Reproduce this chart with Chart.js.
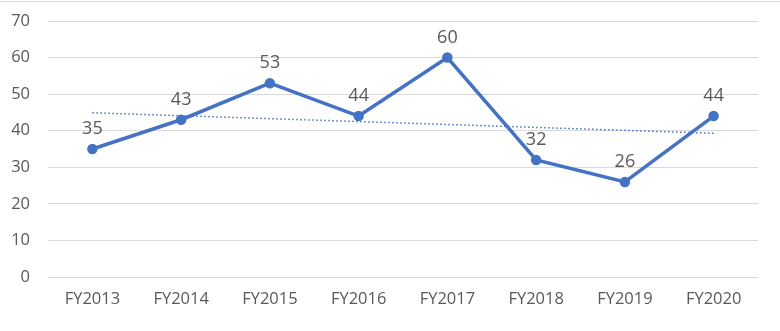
<!DOCTYPE html>
<html>
<head>
<meta charset="utf-8">
<script src="https://cdn.jsdelivr.net/npm/chart.js@4/dist/chart.umd.min.js"></script>
<style>
  html, body { margin: 0; padding: 0; background: #fff; }
  #wrap { position: relative; width: 780px; height: 331px; box-sizing: border-box; border-top: 1px solid #d9d9d9; margin-top: 1px; }
</style>
</head>
<body>
<div id="wrap"><canvas id="chart"></canvas></div>
<script>
const years = ['FY2013', 'FY2014', 'FY2015', 'FY2016', 'FY2017', 'FY2018', 'FY2019', 'FY2020'];
const counts = [35, 43, 53, 44, 60, 32, 26, 44];
// linear trend, only the two ends are drawn and joined
const trendValues = [44.9, null, null, null, null, null, null, 39.3];
const yTicks = [0, 10, 20, 30, 40, 50, 60, 70];

const textColor = '#595959';
const lineColor = '#4472c4';
const fontFamily = "'Open Sans', 'Noto Sans', sans-serif";

const valueLabels = {
  id: 'valueLabels',
  afterDatasetsDraw(chart) {
    const { ctx } = chart;
    const meta = chart.getDatasetMeta(0);
    ctx.save();
    ctx.font = `18px ${fontFamily}`;
    ctx.fillStyle = textColor;
    ctx.textAlign = 'center';
    ctx.textBaseline = 'bottom';
    meta.data.forEach((pt, i) => {
      ctx.fillText(String(counts[i]), pt.x, pt.y - 11);
    });
    ctx.restore();
  }
};

new Chart(document.getElementById('chart'), {
  type: 'line',
  data: {
    labels: years,
    datasets: [
      {
        data: counts,
        borderColor: lineColor,
        backgroundColor: lineColor,
        borderWidth: 3.5,
        pointRadius: 3.5,
        pointHoverRadius: 3.5,
        tension: 0
      },
      {
        data: trendValues,
        borderColor: lineColor,
        borderWidth: 1.5,
        borderDash: [1.5, 2.5],
        pointRadius: 0,
        spanGaps: true,
        tension: 0
      }
    ]
  },
  options: {
    responsive: true,
    maintainAspectRatio: false,
    animation: false,
    layout: { padding: { top: 19, right: 22, bottom: 0, left: 0 } },
    plugins: { legend: { display: false }, tooltip: { enabled: false } },
    scales: {
      x: {
        offset: true,
        grid: { display: false, drawTicks: false },
        border: { display: false },
        ticks: { color: textColor, font: { family: fontFamily, size: 16.5 }, padding: 12, maxRotation: 0 },
        afterFit: (axis) => { axis.height = 55; }
      },
      y: {
        min: 0,
        max: 70,
        afterBuildTicks: (axis) => { axis.ticks = yTicks.map((v) => ({ value: v })); },
        grid: { color: '#d9d9d9', lineWidth: 1, drawTicks: false },
        border: { display: false },
        ticks: { color: textColor, font: { family: fontFamily, size: 16.5 }, padding: 18 },
        afterFit: (axis) => {
          axis.width = 48;
          axis.paddingTop = 0;
          axis.paddingBottom = 0;
        }
      }
    }
  },
  plugins: [valueLabels]
});
</script>
</body>
</html>
